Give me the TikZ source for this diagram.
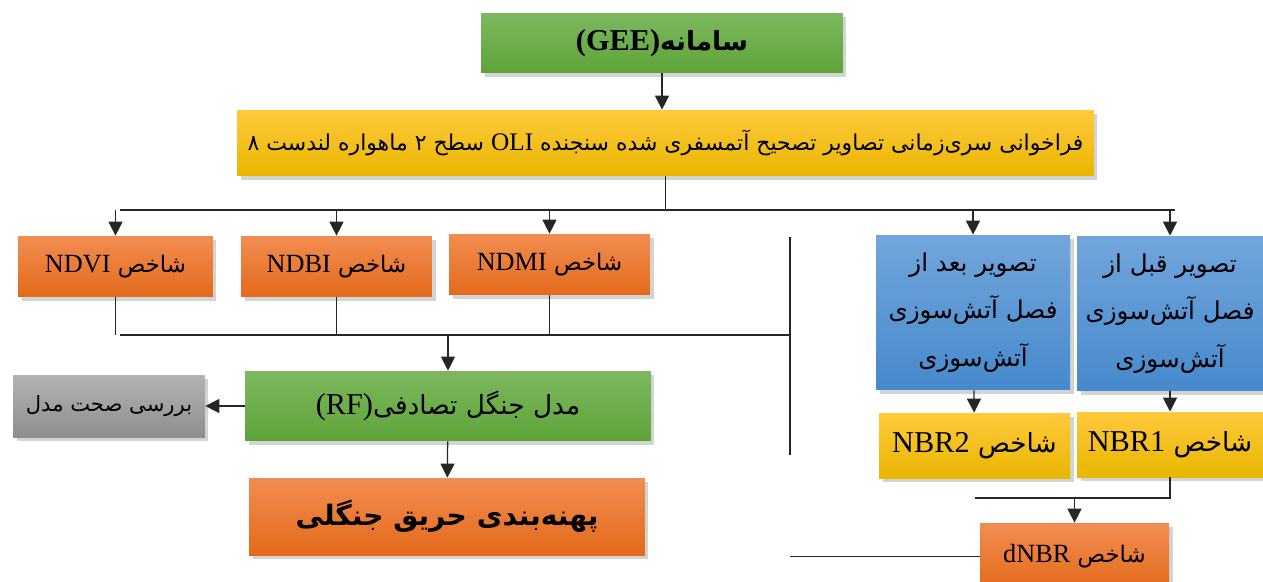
\documentclass[tikz,border=0pt]{standalone}
\usepackage{fontspec}
\setmainfont{Liberation Serif}[Scale=1.15]
\newfontfamily\farsi[Script=Arabic]{DejaVu Sans}
\TeXXeTstate=1
\usetikzlibrary{arrows.meta,shadows}
\definecolor{grtop}{HTML}{7DB85E}
\definecolor{grbot}{HTML}{5EA339}
\definecolor{ortop}{HTML}{F28D52}
\definecolor{orbot}{HTML}{E36A1A}
\definecolor{yetop}{HTML}{FFC93C}
\definecolor{yebot}{HTML}{E9B600}
\definecolor{bltop}{HTML}{72A5DC}
\definecolor{blbot}{HTML}{4689CC}
\definecolor{gytop}{HTML}{B3B3B3}
\definecolor{gybot}{HTML}{8E8E8E}
\newcommand{\fa}[1]{{\farsi\beginR #1\endR}}
\newcommand{\en}[1]{\beginL{\rmfamily #1}\endL}

\begin{document}
\begin{tikzpicture}[x=0.02cm,y=-0.02cm,
  box/.style={inner sep=2pt,align=center,
    drop shadow={opacity=0.35,shadow xshift=2pt,shadow yshift=-2.5pt}},
  grbox/.style={box,top color=grtop,bottom color=grbot},
  orbox/.style={box,top color=ortop,bottom color=orbot},
  yebox/.style={box,top color=yetop,bottom color=yebot},
  blbox/.style={box,top color=bltop,bottom color=blbot},
  gybox/.style={box,top color=gytop,bottom color=gybot},
  conn/.style={draw=black!85,line width=0.7pt},
  arr/.style={conn,-{Triangle[width=8pt,length=8pt]}}]
  \useasboundingbox (0,0) rectangle (1263,581);

  \node[grbox,minimum width=7.24cm,minimum height=1.2cm,font=\fontsize{15}{18}\selectfont\bfseries] (gee) at (662,43)
    {\fa{سامانه\en{(GEE)}}};
  \node[yebox,minimum width=17.14cm,minimum height=1.32cm,font=\fontsize{12.5}{15}\selectfont] (oli) at (665.5,143)
    {\fa{فراخوانی سری^^^^200cزمانی تصاویر تصحیح آتمسفری شده سنجنده \en{OLI} سطح ۲ ماهواره لندست ۸}};

  \node[orbox,minimum width=3.9cm,minimum height=1.22cm,font=\fontsize{13}{16}\selectfont] (ndvi) at (115.5,266.5)
    {\fa{شاخص \en{NDVI}}};
  \node[orbox,minimum width=3.82cm,minimum height=1.22cm,font=\fontsize{13}{16}\selectfont] (ndbi) at (336.5,266.5)
    {\fa{شاخص \en{NDBI}}};
  \node[orbox,minimum width=4.02cm,minimum height=1.22cm,font=\fontsize{13}{16}\selectfont] (ndmi) at (549.5,264.5)
    {\fa{شاخص \en{NDMI}}};

  \node[blbox,minimum width=3.88cm,minimum height=3.1cm,font=\fontsize{14}{27}\selectfont] (after) at (973,312.5)
    {\fa{تصویر بعد از}\\\fa{فصل آتش^^^^200cسوزی}\\\fa{آتش^^^^200cسوزی}};
  \node[blbox,minimum width=3.72cm,minimum height=3.1cm,font=\fontsize{14}{27}\selectfont] (before) at (1170,313.5)
    {\fa{تصویر قبل از}\\\fa{فصل آتش^^^^200cسوزی}\\\fa{آتش^^^^200cسوزی}};

  \node[grbox,minimum width=8.12cm,minimum height=1.4cm,font=\fontsize{15}{18}\selectfont] (rf) at (448,406)
    {\fa{مدل جنگل تصادفی\en{(RF)}}};
  \node[gybox,minimum width=3.84cm,minimum height=1.24cm,font=\fontsize{12}{15}\selectfont] (check) at (109,406)
    {\fa{بررسی صحت مدل}};
  \node[orbox,minimum width=7.92cm,minimum height=1.54cm,font=\fontsize{16}{19}\selectfont\bfseries] (fire) at (447,516.5)
    {\fa{پهنه^^^^200cبندی حریق جنگلی}};

  \node[yebox,minimum width=3.82cm,minimum height=1.3cm,font=\fontsize{15}{18}\selectfont] (nbrtwo) at (974.5,445.5)
    {\fa{شاخص \en{NBR2}}};
  \node[yebox,minimum width=3.72cm,minimum height=1.3cm,font=\fontsize{15}{18}\selectfont] (nbrone) at (1170,444.5)
    {\fa{شاخص \en{NBR1}}};
  \node[orbox,minimum width=3.78cm,minimum height=1.34cm,font=\fontsize{13}{16}\selectfont] (dnbr) at (1074.5,556.5)
    {\fa{شاخص \en{dNBR}}};

  \coordinate (busL) at (120,210);
  \coordinate (busR) at (1175,210);
  \coordinate (joinL) at (120,335);
  \coordinate (joinR) at (790,335);
  \coordinate (sepT) at (790,237);
  \coordinate (sepB) at (790,455);
  \coordinate (mergeL) at (975,498);
  \coordinate (dnbrEnd) at (790,555);

  \draw[arr] (gee.south) -- (gee.south |- oli.north);
  \draw[conn] (oli) -- (oli |- busL);
  \draw[conn] (busL) -- (busR);
  \foreach \n in {ndvi,ndbi,ndmi,after,before}
    \draw[arr] (\n |- busL) -- (\n);
  \foreach \n in {ndvi,ndbi,ndmi}
    \draw[conn] (\n) -- (\n |- joinL);
  \draw[conn] (joinL) -- (joinR);
  \draw[conn] (sepT) -- (sepB);
  \draw[arr] (rf |- joinL) -- (rf);
  \draw[arr] (rf) -- (check);
  \draw[arr] (rf) -- (fire);
  \draw[arr] (after) -- (nbrtwo);
  \draw[arr] (before) -- (nbrone);
  \draw[conn] (nbrone) |- (mergeL);
  \draw[arr] (dnbr |- mergeL) -- (dnbr);
  \draw[conn] (dnbr.west) -- (dnbrEnd |- dnbr.west);
\end{tikzpicture}
\end{document}
